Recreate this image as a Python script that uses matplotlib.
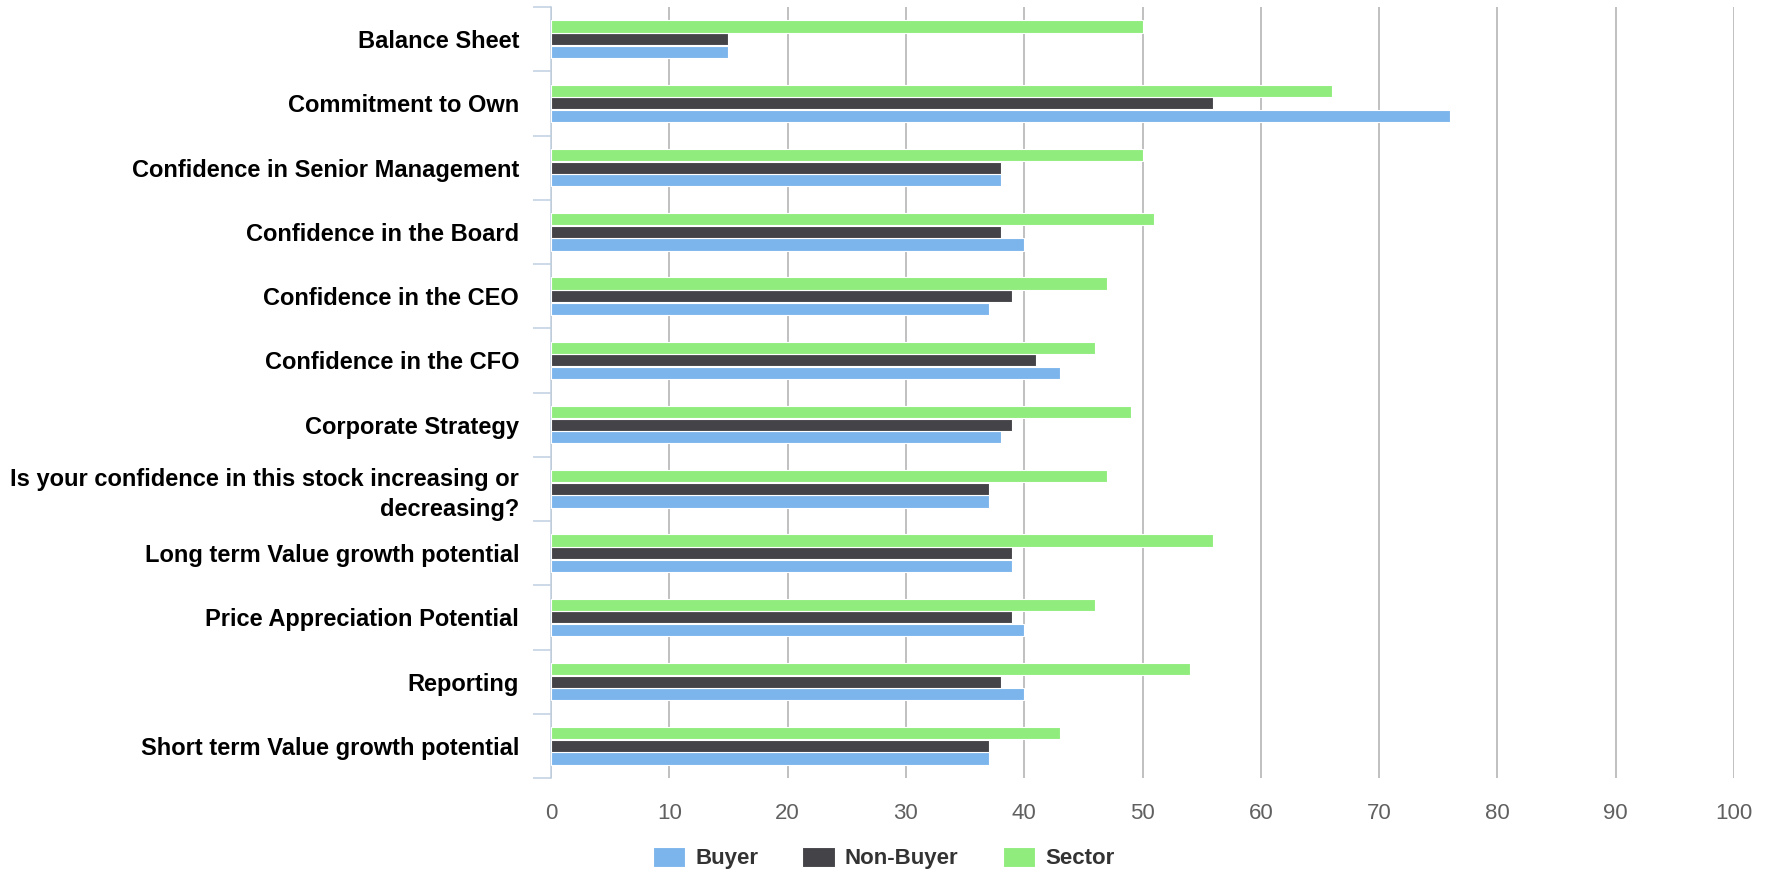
import numpy as np
import matplotlib.pyplot as plt

plt.rcParams['font.family'] = ['Liberation Sans', 'DejaVu Sans']

categories = [
    "Balance Sheet",
    "Commitment to Own",
    "Confidence in Senior Management",
    "Confidence in the Board",
    "Confidence in the CEO",
    "Confidence in the CFO",
    "Corporate Strategy",
    "Is your confidence in this stock increasing or\ndecreasing?",
    "Long term Value growth potential",
    "Price Appreciation Potential",
    "Reporting",
    "Short term Value growth potential",
]
buyer = [15, 76, 38, 40, 37, 43, 38, 37, 39, 40, 40, 37]
non_buyer = [15, 56, 38, 38, 39, 41, 39, 37, 39, 39, 38, 37]
sector = [50, 66, 50, 51, 47, 46, 49, 47, 56, 46, 54, 43]

series = [("Buyer", buyer, "#7cb5ec"),
          ("Non-Buyer", non_buyer, "#434348"),
          ("Sector", sector, "#90ed7d")]

fig = plt.figure(figsize=(17.67, 8.74), dpi=100)
ax = fig.add_axes([551 / 1767, 1 - 778 / 874, (1734 - 551) / 1767, (778 - 7) / 874])

y = np.arange(len(categories))
step = 0.195
offsets = [step, 0, -step]  # Buyer lowest, Sector on top
for (name, vals, col), off in zip(series, offsets):
    ax.barh(y + off, vals, height=0.19, color=col, edgecolor="white",
            linewidth=0.8, label=name, zorder=3)

ax.set_xlim(0, 100)
ax.set_ylim(len(categories) - 0.5, -0.5)
ax.set_xticks(np.arange(0, 101, 10))
ax.grid(axis="x", color="#c0c0c0", linewidth=1.4, zorder=0)
ax.tick_params(axis="x", length=0, pad=18, labelsize=16, labelcolor="#606060")

ax.set_yticks(y)
ax.set_yticklabels(categories, fontweight="bold", fontsize=17, color="black",
                   multialignment="right", linespacing=1.35)
ax.set_yticks(np.arange(-0.5, len(categories)), minor=True)
ax.tick_params(axis="y", which="major", length=0, pad=23)
ax.tick_params(axis="y", which="minor", length=13, width=1.1, color="#c0d0e0")

for s in ["top", "right", "bottom"]:
    ax.spines[s].set_visible(False)
ax.spines["left"].set_color("#c0d0e0")
ax.spines["left"].set_linewidth(1.1)

fig.legend(loc="center", bbox_to_anchor=(0.5, 1 - 858 / 874), ncol=3, frameon=False,
           prop={"weight": "bold", "size": 16}, labelcolor="#333333",
           handlelength=1.45, handleheight=1.0, handletextpad=0.45, columnspacing=2.0)

fig.savefig("out.png", dpi=100)
